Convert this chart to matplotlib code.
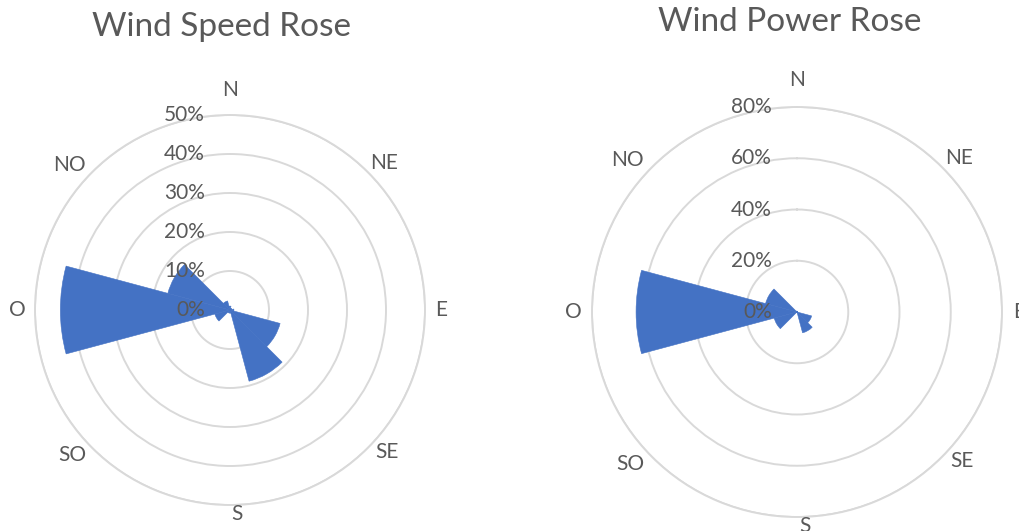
import numpy as np
import matplotlib
matplotlib.use("Agg")
import matplotlib.pyplot as plt

# 12 direction sectors (bearing of sector centre, degrees clockwise from north)
sector_bearings = [0, 30, 60, 90, 120, 150, 180, 210, 240, 270, 300, 330]
# share of records per sector (%)
speed_pct = [1.0, 0.5, 0.5, 1.0, 13.3, 18.9, 0.8, 0.8, 4.0, 43.5, 16.5, 2.4]
# share of energy per sector (%)
power_pct = [0.3, 0.2, 0.2, 0.3, 5.9, 8.4, 0.2, 0.2, 9.2, 62.8, 12.7, 0.4]

compass_labels = ["N", "NE", "E", "SE", "S", "SO", "O", "NO"]
compass_angles = [0, 46.5, 90, 132, 178, 227.5, 270, 312]
# distance of each compass label from the centre, as a fraction of the outer ring
compass_dist = [1.13, 1.092, 1.083, 1.085, 1.045, 1.10, 1.09, 1.11]

speed_rings = [0, 10, 20, 30, 40, 50]
power_rings = [0, 20, 40, 60, 80]

BLUE = "#4472C4"
GRID = "#D9D9D9"
TEXT = "#595959"
FONT = ["Lato", "DejaVu Sans"]

W, H = 1019, 531
fig = plt.figure(figsize=(W / 100, H / 100), dpi=100)


def add_rose(cx, cy, radius_px, values, rings, title, title_xy):
    ax = fig.add_axes([(cx - radius_px) / W, (H - cy - radius_px) / H,
                       2 * radius_px / W, 2 * radius_px / H],
                      projection="polar")
    ax.set_theta_zero_location("N")
    ax.set_theta_direction(-1)
    ax.set_facecolor("none")

    theta = np.deg2rad(sector_bearings)
    ax.bar(theta, values, width=np.deg2rad(30), bottom=0,
           color=BLUE, edgecolor=BLUE, linewidth=0.4, align="center",
           zorder=2)

    rmax = rings[-1]
    ax.set_ylim(0, rmax)
    ax.set_yticks(rings[1:])
    ax.set_yticklabels([])
    ax.yaxis.grid(True, color=GRID, linewidth=1.4)
    ax.xaxis.grid(False)
    ax.set_xticks([])
    ax.spines["polar"].set_color(GRID)
    ax.spines["polar"].set_linewidth(1.4)

    for lab, ang, d in zip(compass_labels, compass_angles, compass_dist):
        ax.text(np.deg2rad(ang), d * rmax, lab, ha="center", va="center",
                fontsize=15, color=TEXT, family=FONT, clip_on=False)

    for r in rings:
        ax.annotate(f"{r}%", xy=(0, r), xycoords="data",
                    xytext=(-18, 0), textcoords="offset points",
                    ha="right", va="center", fontsize=15, color=TEXT,
                    family=FONT, zorder=5, annotation_clip=False)

    fig.text(title_xy[0] / W, 1 - title_xy[1] / H, title, ha="center",
             va="center", fontsize=24, color=TEXT, family=FONT)
    return ax


add_rose(230, 310, 195, speed_pct, speed_rings, "Wind Speed Rose", (221, 27))
add_rose(797, 312, 205, power_pct, power_rings, "Wind Power Rose", (790, 22))

fig.savefig("out.png", dpi=100)
